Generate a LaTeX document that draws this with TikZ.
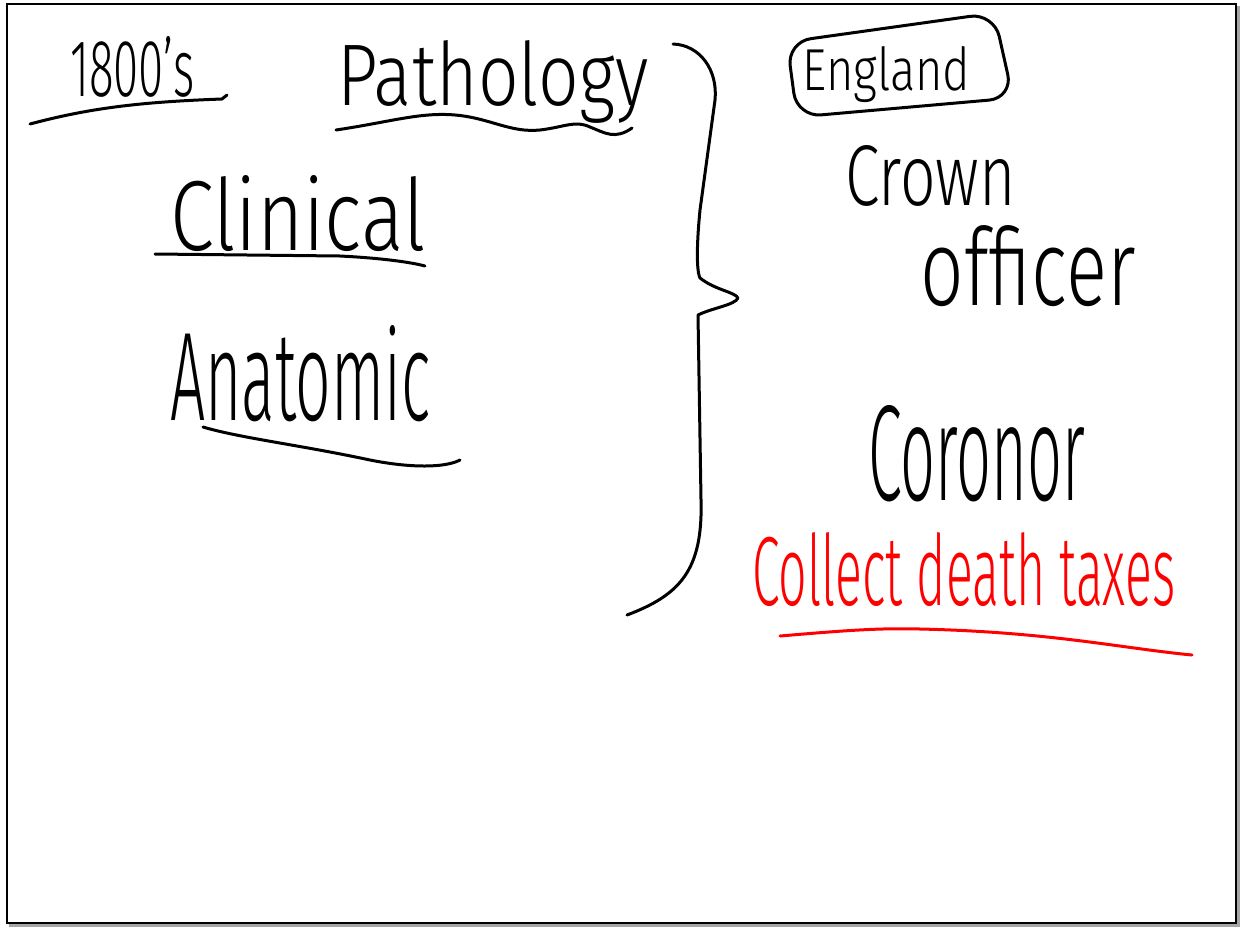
\documentclass[tikz,border=0pt]{standalone}
\usepackage{fontspec}
\setmainfont{Fira Sans Light}
\usepackage{graphicx}
\begin{document}
\begin{tikzpicture}[x=0.5pt,y=-0.5pt,
  ink/.style={line width=1.5pt,line cap=round,line join=round},
  txt/.style={inner sep=0pt,anchor=north west},
  redink/.style={ink,draw=red}]
\useasboundingbox (0,0) rectangle (1240,926);
\fill[white] (0,0) rectangle (1240,926);
\draw[gray!70,line width=1.2pt] (1238.5,6) -- (1238.5,925.5) -- (9,925.5);
\draw[line width=1pt] (7,4) rectangle (1236,923);
% texts
\node[txt] (t1800) at (70,36) {\resizebox{62pt}{30pt}{1800's}};
\node[txt] (path) at (337,40) {\resizebox{155.5pt}{32.5pt}{Pathology}};
\node[txt] (clin) at (170,175) {\resizebox{127.5pt}{37.5pt}{Clinical}};
\node[txt] (anat) at (170,325) {\resizebox{130pt}{47.5pt}{Anatomic}};
\node[txt] (eng) at (802,46) {\resizebox{84pt}{22pt}{England}};
\node[txt] (crown) at (845,145) {\resizebox{85pt}{30pt}{Crown}};
\node[txt] (off) at (920,225) {\resizebox{107.5pt}{40pt}{officer}};
\node[txt] (cor) at (868,405) {\resizebox{108.5pt}{47.5pt}{Coronor}};
\node[txt,text=red] (tax) at (752,532) {\resizebox{211.5pt}{36.5pt}{Collect death taxes}};
% underlines
\draw[ink] (30,124) .. controls (90,108) and (140,102) .. (222,99) -- (227,95);
\draw[ink] (336,130) .. controls (390,122) and (420,112) .. (455,115) .. controls (490,118) and (510,133) .. (540,130) .. controls (565,127) and (575,120) .. (590,127) .. controls (605,133) and (615,140) .. (632,128);
\draw[ink] (155,254) -- (340,256) .. controls (380,258) and (410,262) .. (425,266);
\draw[ink] (203,427) .. controls (240,438) and (300,445) .. (370,460) .. controls (410,468) and (445,468) .. (460,460);
\draw[redink] (780,636) .. controls (850,630) and (880,628) .. (920,629) .. controls (1050,632) and (1120,648) .. (1192,655);
% box round England
\draw[ink,rounded corners=12pt] (787,42) -- (994,13) -- (1013,98) -- (797,117) -- cycle;
% brace
\draw[ink] (673,44) .. controls (700,45) and (718,70) .. (715,100) -- (700,210) .. controls (697,240) and (696,270) .. (700,278) .. controls (715,290) and (735,292) .. (738,298) .. controls (735,305) and (712,308) .. (698,315) -- (701,500) .. controls (703,570) and (680,595) .. (627,615);
\end{tikzpicture}
\end{document}
